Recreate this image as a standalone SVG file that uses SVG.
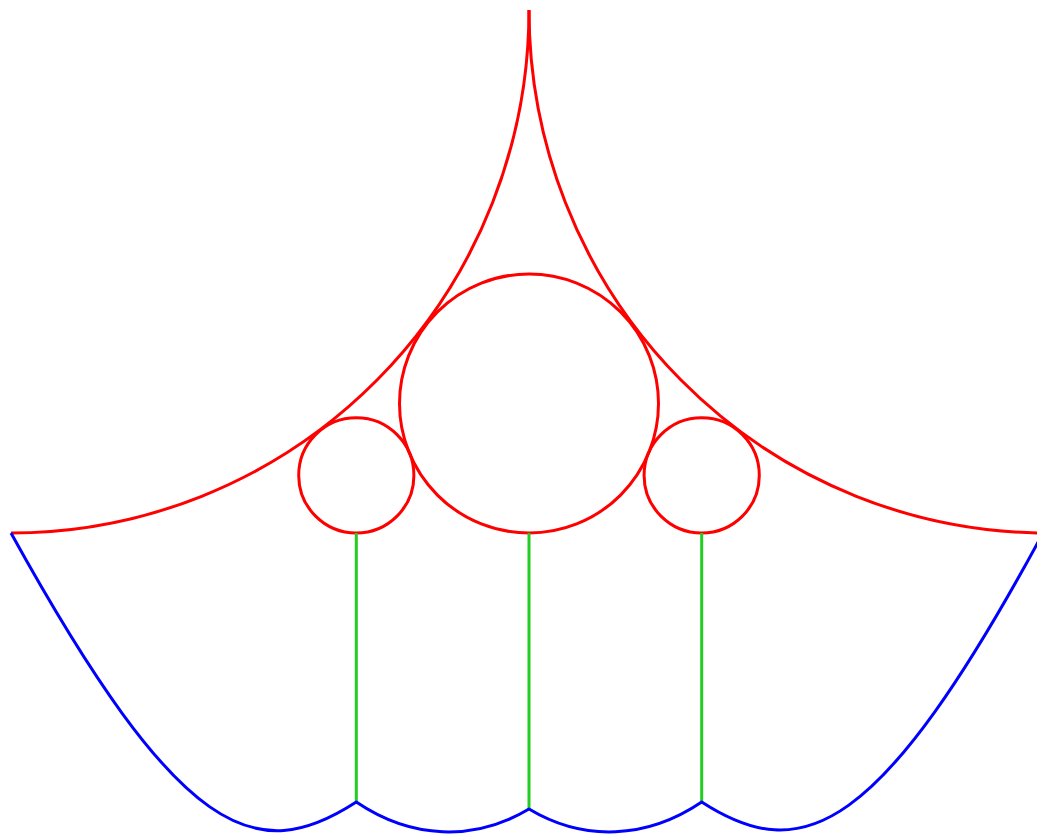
<svg xmlns="http://www.w3.org/2000/svg" width="1037" height="837" viewBox="0 0 1037 837">
<style>
.red{fill:none;stroke:#ff0000;stroke-width:3}
.blue{fill:none;stroke:#0000ff;stroke-width:3;stroke-linejoin:round}
.green{fill:none;stroke:#22cc22;stroke-width:3}
</style>
<rect width="1037" height="837" fill="#ffffff"/>
<g id="arcs">
<path class="red" d="M529,10 A518,523 0 0 1 11,533"/>
<path class="red" d="M529,10 A518,523 0 0 0 1047,533"/>
</g>
<g id="big-circle"><circle class="red" cx="529" cy="403.5" r="129.5"/></g>
<g id="small-circle-left"><circle class="red" cx="356.3" cy="475.4" r="57.6"/></g>
<g id="small-circle-right"><circle class="red" cx="701.7" cy="475.4" r="57.6"/></g>
<g id="connectors">
<line class="green" x1="356.3" y1="533" x2="356.3" y2="802"/>
<line class="green" x1="529" y1="533" x2="529" y2="809"/>
<line class="green" x1="701.7" y1="533" x2="701.7" y2="802"/>
</g>
<g id="blue-curve">
<path class="blue" d="M11,533 C180,839 256,867 356.3,802 C411,839 474,842 529,809 C584,842 647,839 701.7,802 C802,867 880,835 1043,533"/>
</g>
</svg>
